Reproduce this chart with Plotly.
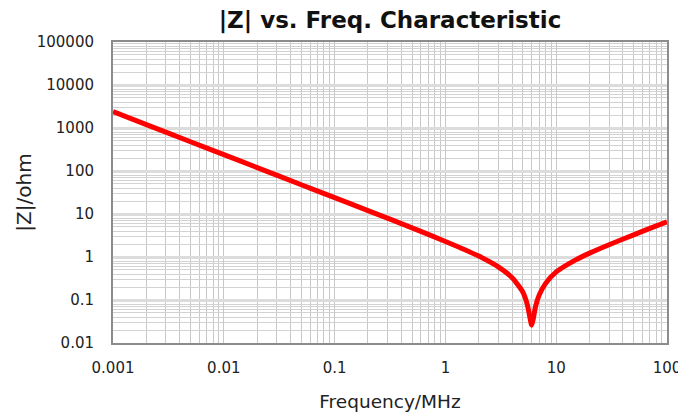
import plotly.graph_objects as go

freq_mhz = [0.001, 0.002, 0.005, 0.01, 0.02, 0.05, 0.1, 0.2, 0.5, 1, 1.5, 2, 3, 4, 5,
            5.5, 5.8, 6, 6.2, 6.5, 7, 8, 10, 15, 20, 30, 50, 70, 100]
z_ohm = [2400, 1200, 480, 240, 120, 48, 24.0, 11.99, 4.77, 2.30, 1.48, 1.05, 0.59, 0.33, 0.152,
         0.076, 0.038, 0.026, 0.036, 0.069, 0.128, 0.24, 0.45, 0.86, 1.23, 1.93, 3.28, 4.63, 6.6]

x_ticks = [0.001, 0.01, 0.1, 1, 10, 100]
x_ticklabels = ["0.001", "0.01", "0.1", "1", "10", "100"]
y_ticks = [0.01, 0.1, 1, 10, 100, 1000, 10000, 100000]
y_ticklabels = ["0.01", "0.1", "1", "10", "100", "1000", "10000", "100000"]

font_family = "DejaVu Sans, Verdana, sans-serif"

fig = go.Figure()
fig.add_trace(go.Scatter(
    x=freq_mhz, y=z_ohm, mode="lines",
    line=dict(color="#ff0000", width=5, shape="spline", smoothing=0.6),
    showlegend=False,
))

axis_common = dict(
    type="log",
    automargin=False,
    showline=True, linecolor="#8c8c8c", linewidth=2, mirror=True,
    showgrid=True,
    zeroline=False,
    ticks="", tickfont=dict(family=font_family, size=15, color="#222"),
)

fig.update_xaxes(
    **axis_common,
    range=[-3, 2],
    gridcolor="#c8c8c8", gridwidth=1,
    minor=dict(dtick="D1", showgrid=True, gridcolor="#c8c8c8", gridwidth=1, ticks=""),
    tickvals=x_ticks, ticktext=x_ticklabels,
    ticklabelstandoff=10,
    title=dict(text="Frequency/MHz", font=dict(family=font_family, size=18.5, color="#222"), standoff=19),
)
fig.update_yaxes(
    **axis_common,
    range=[-2, 5],
    gridcolor="#dcdcdc", gridwidth=3,
    minor=dict(dtick="D1", showgrid=True, gridcolor="#d2d2d2", gridwidth=1, ticks=""),
    tickvals=y_ticks, ticktext=y_ticklabels,
    ticklabelstandoff=14,
    title=dict(text="|Z|/ohm", font=dict(family=font_family, size=20, color="#222"), standoff=0),
)

# the page body has an 8px default margin, so the figure is sized to fit the window
W, H = 678, 406
fig.update_layout(
    width=W, height=H,
    margin=dict(l=105, r=19, t=34, b=71),
    paper_bgcolor="white", plot_bgcolor="white",
    title=dict(text="<b>|Z| vs. Freq. Characteristic</b>", x=0.5, xanchor="center",
               xref="paper",
               y=1 - 12 / H, yanchor="middle", yref="container",
               font=dict(family=font_family, size=23, color="#111")),
)

fig.write_html("out.html")
